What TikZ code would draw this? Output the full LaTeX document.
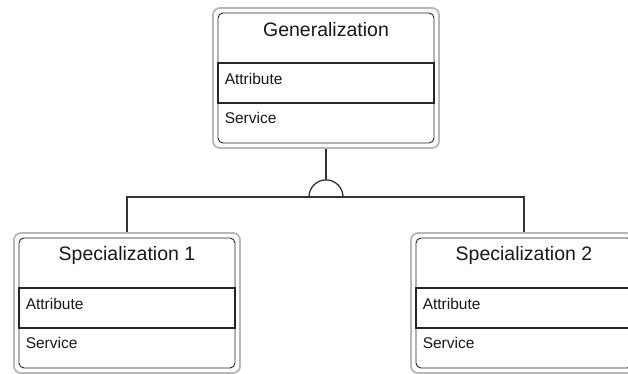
\documentclass[tikz,border=0pt]{standalone}
\usepackage{fontspec}
\setmainfont{Liberation Sans}
\usetikzlibrary{calc}

\tikzset{
  frame/.style={draw=black!28, line width=1.8pt, rounded corners=7pt,
    minimum width=226pt, minimum height=140pt, inner sep=0pt},
  classbody/.style={draw=black!85, line width=0.9pt, rounded corners=5pt,
    minimum width=216pt, minimum height=130pt, inner sep=0pt, fill=white},
  band/.style={draw=black!85, line width=1.3pt,
    minimum width=216pt, minimum height=40pt, inner sep=0pt},
  title/.style={font=\fontsize{19.5}{22}\selectfont, text=black!90, inner sep=0pt},
  member/.style={font=\fontsize{15.5}{18}\selectfont, text=black!90,
    inner sep=0pt, anchor=west},
  link/.style={draw=black!80, line width=1.3pt},
}

% class box: name, centre x, centre y, title
\newcommand\umlclass[4]{%
  \node[frame] (#1) at (#2,#3) {};
  \node[classbody] (#1-body) at (#2,#3) {};
  \node[band] (#1-attr) at ($(#1-body.center)+(0,-5)$) {};
  \node[title] (#1-title) at ($(#1-body.center)+(0,48)$) {#4};
  \node[member] (#1-attrtext) at ($(#1-body.west)+(7,-1)$) {Attribute};
  \node[member] (#1-svctext) at ($(#1-body.west)+(7,-40)$) {Service};
}

\begin{document}
\begin{tikzpicture}[x=1pt, y=1pt]
  \useasboundingbox[fill=white] (0,0) rectangle (628,373);

  \umlclass{gen}{326}{295}{Generalization}
  \umlclass{spec1}{127}{70}{Specialization 1}
  \umlclass{spec2}{524}{70}{Specialization 2}

  % generalization connector with semicircle hub
  \coordinate (hub) at ($(gen.south)+(0,-48)$);
  \coordinate (hub-top) at ($(hub)+(0,17)$);
  \draw[link] (gen.south) -- (hub-top);
  \draw[link] ($(hub)+(-17,0)$) arc[start angle=180, end angle=0, radius=17pt];
  \draw[link] (spec1.north) |- (hub) -| (spec2.north);
\end{tikzpicture}
\end{document}
